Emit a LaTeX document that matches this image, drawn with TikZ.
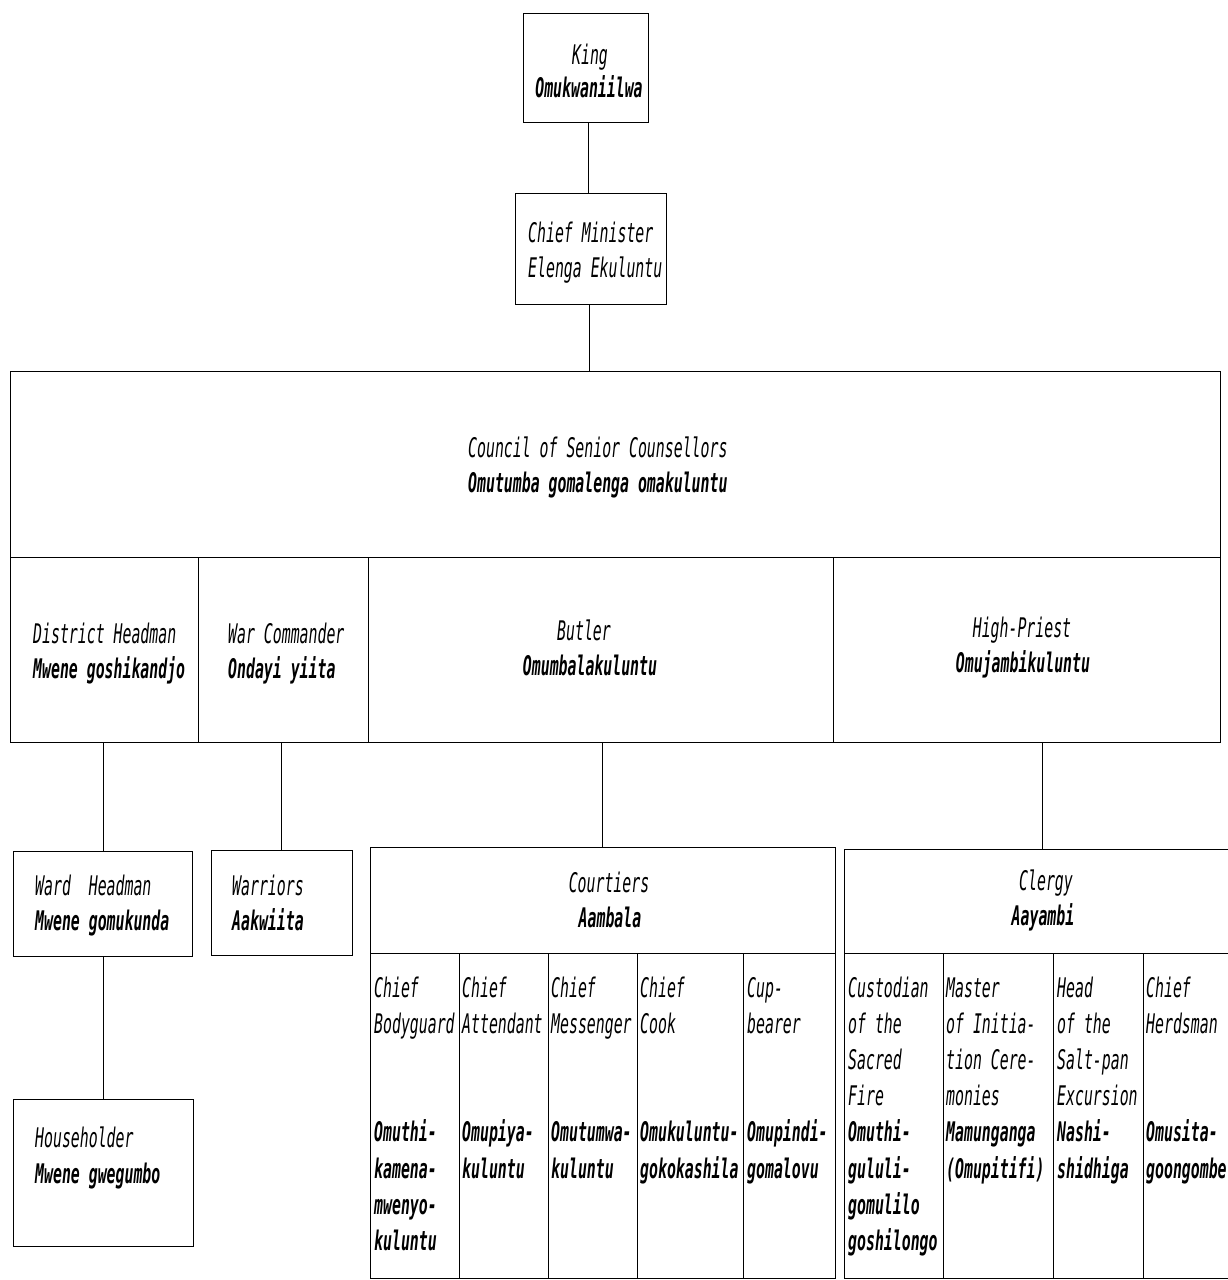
\documentclass[tikz,border=0pt]{standalone}
\usepackage{fontspec}
\newfontfamily\chartfont[FakeStretch=0.55,
  BoldFont={DejaVu Sans Mono Bold},
  ItalicFont={DejaVu Sans Mono Oblique},
  BoldItalicFont={DejaVu Sans Mono Bold Oblique}]{DejaVu Sans Mono}
\begin{document}
\begin{tikzpicture}[x=1pt,y=-1pt,
  box/.style={draw, line width=1.3pt, rectangle, inner sep=0pt, anchor=north west},
  en/.style={font=\chartfont\itshape\fontsize{27}{36.2}\selectfont, inner sep=0pt, align=left},
  ver/.style={font=\chartfont\bfseries\itshape\fontsize{27}{36.2}\selectfont, inner sep=0pt, align=left},
  link/.style={line width=1.1pt}]
\useasboundingbox (0,0) rectangle (1228,1280);
\fill[white] (0,0) rectangle (1228,1280);
\clip (0,0) rectangle (1228,1280);

% ---------- boxes ----------
\node[box, minimum width=125pt, minimum height=109pt] (king) at (523,13) {};
\node[box, minimum width=151pt, minimum height=111pt] (cm) at (515,193) {};
\node[box, minimum width=1210pt, minimum height=186pt] (council) at (10,371) {};
\node[box, minimum width=188pt, minimum height=185pt] (district) at (10,557) {};
\node[box, minimum width=170pt, minimum height=185pt] (war) at (198,557) {};
\node[box, minimum width=465pt, minimum height=185pt] (butler) at (368,557) {};
\node[box, minimum width=387pt, minimum height=185pt] (priest) at (833,557) {};
\node[box, minimum width=179pt, minimum height=105pt] (ward) at (13,851) {};
\node[box, minimum width=141pt, minimum height=105pt] (warriors) at (211,850) {};
\node[box, minimum width=180pt, minimum height=147pt] (house) at (13,1099) {};
\node[box, minimum width=465pt, minimum height=106pt] (courtiers) at (370,847) {};
\node[box, minimum width=89pt, minimum height=325pt] (bodyguard) at (370,953) {};
\node[box, minimum width=89pt, minimum height=325pt] (attendant) at (459,953) {};
\node[box, minimum width=89pt, minimum height=325pt] (messenger) at (548,953) {};
\node[box, minimum width=106pt, minimum height=325pt] (cook) at (637,953) {};
\node[box, minimum width=92pt, minimum height=325pt] (cup) at (743,953) {};
\node[box, minimum width=395pt, minimum height=104pt] (clergy) at (844,849) {};
\node[box, minimum width=99pt, minimum height=325pt] (custodian) at (844,953) {};
\node[box, minimum width=110pt, minimum height=325pt] (master) at (943,953) {};
\node[box, minimum width=90pt, minimum height=325pt] (head) at (1053,953) {};
\node[box, minimum width=96pt, minimum height=325pt] (herdsman) at (1143,953) {};

% ---------- connectors ----------
\draw[link] ([xshift=2pt]king.south) -- ([xshift=2pt]king.south |- cm.north);
\draw[link] ([xshift=-2pt]cm.south) -- ([xshift=-2pt]cm.south |- council.north);
\draw[link] (ward.north) -- (ward.north |- district.south);
\draw[link] ([xshift=-1pt]warriors.north) -- ([xshift=-1pt]warriors.north |- war.south);
\draw[link] ([xshift=-1pt]courtiers.north) -- ([xshift=-1pt]courtiers.north |- butler.south);
\draw[link] (clergy.north) -- (clergy.north |- priest.south);
\draw[link] (house.north -| ward.south) -- (ward.south);

% ---------- texts ----------
\node[en, anchor=base] (kingA) at (590,64) {King};
\node[ver, anchor=base] (kingB) at (589,97) {Omukwaniilwa};
\node[en, anchor=base west] (cmA) at (528,242) {Chief Minister};
\node[en, anchor=base west] (cmB) at (528,277) {Elenga Ekuluntu};
\node[en, anchor=base west] (coA) at (468,457) {Council of Senior Counsellors};
\node[ver, anchor=base west] (coB) at (468,492) {Omutumba gomalenga omakuluntu};
\node[en, anchor=base west] (diA) at (33,643) {District Headman};
\node[ver, anchor=base west] (diB) at (33,678) {Mwene goshikandjo};
\node[en, anchor=base west] (waA) at (228,643) {War Commander};
\node[ver, anchor=base west] (waB) at (228,678) {Ondayi yiita};
\node[en, anchor=base] (buA) at (584,640) {Butler};
\node[ver, anchor=base] (buB) at (590,675) {Omumbalakuluntu};
\node[en, anchor=base] (prA) at (1022,637) {High-Priest};
\node[ver, anchor=base] (prB) at (1023,672) {Omujambikuluntu};
\node[en, anchor=base west] (wdA) at (35,895) {Ward~~Headman};
\node[ver, anchor=base west] (wdB) at (35,930) {Mwene gomukunda};
\node[en, anchor=base west] (wrA) at (232,895) {Warriors};
\node[ver, anchor=base west] (wrB) at (232,930) {Aakwiita};
\node[en, anchor=base west] (hoA) at (35,1147) {Householder};
\node[ver, anchor=base west] (hoB) at (35,1183) {Mwene gwegumbo};
\node[en, anchor=base] (ctA) at (609,892) {Courtiers};
\node[ver, anchor=base] (ctB) at (610,927) {Aambala};
\node[en, anchor=base] (clA) at (1046,890) {Clergy};
\node[ver, anchor=base] (clB) at (1043,925) {Aayambi};

% column texts (anchor = baseline of the LAST line of each block)
% line baselines: 997, 1033.2, 1069.4, 1105.6 | 1141.8, 1178, 1214.2, 1250.4
\node[en, anchor=base west] (bgA) at (374,1033.2) {Chief\\Bodyguard};
\node[ver, anchor=base west] (bgB) at (374,1250.4) {Omuthi-\\kamena-\\mwenyo-\\kuluntu};
\node[en, anchor=base west] (atA) at (462,1033.2) {Chief\\Attendant};
\node[ver, anchor=base west] (atB) at (462,1178) {Omupiya-\\kuluntu};
\node[en, anchor=base west] (meA) at (551,1033.2) {Chief\\Messenger};
\node[ver, anchor=base west] (meB) at (551,1178) {Omutumwa-\\kuluntu};
\node[en, anchor=base west] (coKA) at (640,1033.2) {Chief\\Cook};
\node[ver, anchor=base west] (coKB) at (640,1178) {Omukuluntu-\\gokokashila};
\node[en, anchor=base west] (cuA) at (747,1033.2) {Cup-\\bearer};
\node[ver, anchor=base west] (cuB) at (747,1178) {Omupindi-\\gomalovu};
\node[en, anchor=base west] (csA) at (848,1105.6) {Custodian\\of the\\Sacred\\Fire};
\node[ver, anchor=base west] (csB) at (848,1250.4) {Omuthi-\\gululi-\\gomulilo\\goshilongo};
\node[en, anchor=base west] (maA) at (946,1105.6) {Master\\of Initia-\\tion Cere-\\monies};
\node[ver, anchor=base west] (maB) at (946,1178) {Mamunganga\\(Omupitifi)};
\node[en, anchor=base west] (heA) at (1057,1105.6) {Head\\of the\\Salt-pan\\Excursion};
\node[ver, anchor=base west] (heB) at (1057,1178) {Nashi-\\shidhiga};
\node[en, anchor=base west] (hdA) at (1146,1033.2) {Chief\\Herdsman};
\node[ver, anchor=base west] (hdB) at (1146,1178) {Omusita-\\goongombe};
\end{tikzpicture}
\end{document}
